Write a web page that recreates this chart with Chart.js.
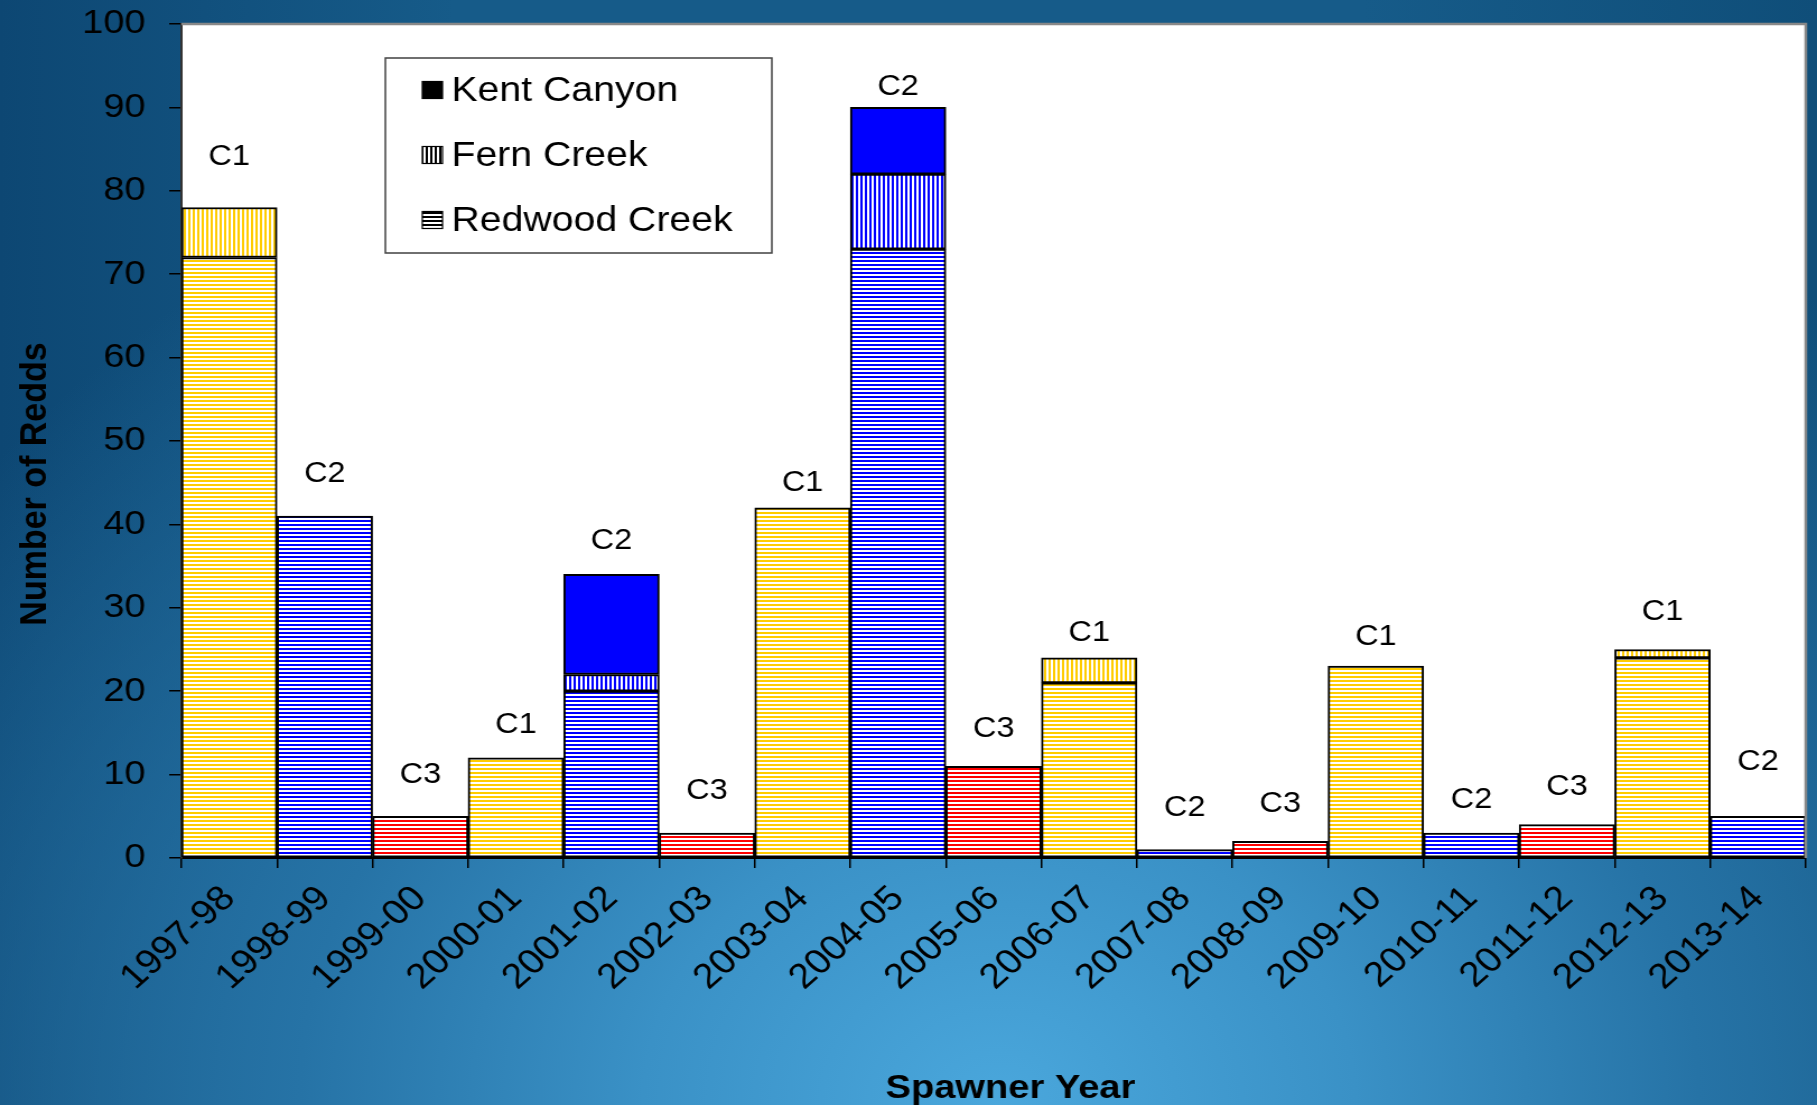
<!DOCTYPE html>
<html>
<head>
<meta charset="utf-8">
<script src="https://cdn.jsdelivr.net/npm/chart.js@4/dist/chart.umd.min.js"></script>
<style>
  html, body { margin: 0; padding: 0; }
  body {
    width: 1817px; height: 1105px; overflow: hidden;
    background:
      radial-gradient(ellipse 70% 95% at 55% 100%, #4aa7dc 0%, #3a91c6 28%, #2673a6 55%, rgba(22,90,137,0) 100%),
      linear-gradient(to right, #0d4773 0%, #165b89 25%, #165b89 75%, #0f4e79 100%);
  }
</style>
</head>
<body>
<canvas id="c" width="1622" height="1105" style="display:block;width:1817px;height:1105px"></canvas>
<script>
// the original picture is stretched sideways, so the canvas is drawn narrower and widened by css
var years = ["1997-98", "1998-99", "1999-00", "2000-01", "2001-02", "2002-03", "2003-04", "2004-05", "2005-06",
  "2006-07", "2007-08", "2008-09", "2009-10", "2010-11", "2011-12", "2012-13", "2013-14"];
var cohorts = ["C1", "C2", "C3", "C1", "C2", "C3", "C1", "C2", "C3", "C1", "C2", "C3", "C1", "C2", "C3", "C1", "C2"];
var redwood = [72, 41, 5, 12, 20, 3, 42, 73, 11, 21, 1, 2, 23, 3, 4, 24, 5];
var fern = [6, 0, 0, 0, 2, 0, 0, 9, 0, 3, 0, 0, 0, 0, 0, 1, 0];
var kent = [0, 0, 0, 0, 12, 0, 0, 8, 0, 0, 0, 0, 0, 0, 0, 0, 0];
// where the cohort tags sit, in axis units
var labelY = [84, 46, 10, 16, 38, 8, 45, 92.5, 15.5, 27, 6, 6.5, 26.5, 7, 8.5, 29.5, 11.5];
var yTicks = [0, 10, 20, 30, 40, 50, 60, 70, 80, 90, 100];
var cohortColors = { C1: "#FFCC00", C2: "#0000FF", C3: "#FF0000" };

var FONT = "'Liberation Sans', Arial, sans-serif";

var makePattern = function makePattern(color, dir) {
  var p = document.createElement("canvas");
  p.width = 4;
  p.height = 4;
  var g = p.getContext("2d");
  g.fillStyle = "#ffffff";
  g.fillRect(0, 0, 4, 4);
  g.fillStyle = color;
  if (dir === "h") g.fillRect(0, 0, 4, 2);
  else g.fillRect(0, 0, 2, 4);
  return g.createPattern(p, "repeat");
};

var fills = function fills(dir) {
  return cohorts.map(function (c) {
    if (dir === "solid") return cohortColors[c];
    return makePattern(cohortColors[c], dir);
  });
};

var extras = {
  id: "extras",
  beforeDraw: function (chart) {
    var a = chart.chartArea, ctx = chart.ctx;
    ctx.save();
    ctx.fillStyle = "#ffffff";
    ctx.fillRect(a.left, a.top, a.right - a.left, a.bottom - a.top);
    ctx.restore();
  },
  afterDraw: function (chart) {
    var a = chart.chartArea, ctx = chart.ctx;
    var xs = chart.scales.x, ys = chart.scales.y;
    ctx.save();
    // grey frame on top and right
    ctx.strokeStyle = "#888888";
    ctx.lineWidth = 2.5;
    ctx.beginPath();
    ctx.moveTo(a.left, a.top);
    ctx.lineTo(a.right, a.top);
    ctx.lineTo(a.right, a.bottom);
    ctx.stroke();

    // cohort tags
    ctx.fillStyle = "#000000";
    ctx.font = "29px " + FONT;
    ctx.textAlign = "center";
    ctx.textBaseline = "middle";
    cohorts.forEach(function (c, i) {
      ctx.fillText(c, xs.getPixelForValue(i), ys.getPixelForValue(labelY[i]));
    });

    // legend
    var lx = 344, ly = 58, lw = 345, lh = 195;
    ctx.fillStyle = "#ffffff";
    ctx.fillRect(lx, ly, lw, lh);
    ctx.strokeStyle = "#404040";
    ctx.lineWidth = 1.5;
    ctx.strokeRect(lx, ly, lw, lh);
    var items = [["Kent Canyon", "solid"], ["Fern Creek", "v"], ["Redwood Creek", "h"]];
    var rows = [90, 155, 220];
    items.forEach(function (it, k) {
      var cy = rows[k];
      var ix = 377, iw = 18, ih = 17;
      ctx.fillStyle = it[1] === "solid" ? "#000000" : makePattern("#000000", it[1]);
      ctx.fillRect(ix, cy - ih / 2, iw, ih);
      ctx.strokeStyle = "#000000";
      ctx.lineWidth = 1.2;
      ctx.strokeRect(ix, cy - ih / 2, iw, ih);
      ctx.fillStyle = "#000000";
      ctx.font = "35px " + FONT;
      ctx.textAlign = "left";
      ctx.textBaseline = "middle";
      ctx.fillText(it[0], 403, cy + 1);
    });

    // axis titles
    ctx.font = "bold 34px " + FONT;
    ctx.fillStyle = "#000000";
    ctx.textAlign = "center";
    ctx.textBaseline = "alphabetic";
    ctx.fillText("Spawner Year", 902, 1098);
    ctx.translate(41, 484);
    ctx.rotate(-Math.PI / 2);
    ctx.fillText("Number of Redds", 0, 0);
    ctx.restore();
  }
};

var ctx = document.getElementById("c");
var myChart = new Chart(ctx, {
  type: "bar",
  data: {
    labels: years,
    datasets: [
      { label: "Redwood Creek", data: redwood, backgroundColor: fills("h") },
      { label: "Fern Creek", data: fern, backgroundColor: fills("v") },
      { label: "Kent Canyon", data: kent, backgroundColor: fills("solid") }
    ]
  },
  options: {
    responsive: false,
    animation: false,
    devicePixelRatio: 1,
    layout: { padding: { top: 24, right: 10, bottom: 0, left: 0 } },
    datasets: {
      bar: {
        barPercentage: 1,
        categoryPercentage: 1,
        borderColor: "#000000",
        borderWidth: 2,
        borderSkipped: false
      }
    },
    plugins: {
      legend: { display: false },
      tooltip: { enabled: false }
    },
    scales: {
      x: {
        stacked: true,
        grid: { offset: true, drawOnChartArea: false, tickLength: 10, color: "#000000", lineWidth: 1.5 },
        border: { color: "#000000", width: 2 },
        ticks: {
          autoSkip: false,
          maxRotation: 45,
          minRotation: 45,
          padding: 10,
          color: "#000000",
          font: { family: FONT, size: 35 }
        },
        afterFit: function (s) { s.height = 247; }
      },
      y: {
        stacked: true,
        min: 0,
        max: 100,
        afterBuildTicks: function (s) { s.ticks = yTicks.map(function (v) { return { value: v }; }); },
        grid: { drawOnChartArea: false, tickLength: 11, color: "#000000", lineWidth: 1.5 },
        border: { color: "#333333", width: 2 },
        ticks: {
          padding: 21,
          color: "#000000",
          font: { family: FONT, size: 34 }
        },
        afterFit: function (s) {
          s.width = 162;
          s.paddingTop = 0;
          s.paddingBottom = 0;
        }
      }
    }
  },
  plugins: [extras]
});
</script>
</body>
</html>
